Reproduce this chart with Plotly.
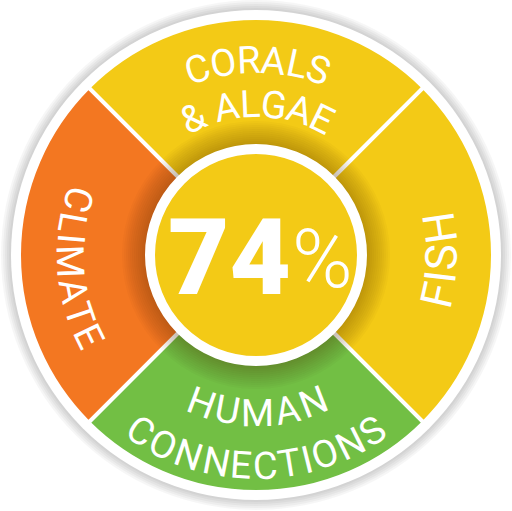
import math
import plotly.graph_objects as go

# ---------------- data ----------------
categories = ["CORALS & ALGAE", "FISH", "HUMAN CONNECTIONS", "CLIMATE"]
label_lines = [["CORALS", "& ALGAE"], ["FISH"], ["HUMAN", "CONNECTIONS"], ["CLIMATE"]]
weights = [1, 1, 1, 1]
score_value = "74"
score_unit = "%"

# ---------------- style ----------------
colors = ["#F3CA16", "#F3CA16", "#72BF44", "#F37721"]
YELLOW = "#F3CA16"
W, H = 512, 511
CX, CY = 256, 255
R_OUT = 237
FONT = "Roboto"

# label layout per category line: (radius, centre angle from top clockwise, size, outward)
label_layout = [
    [(195, 0.5, 38, True), (151, 0.5, 38, True)],
    [(186, 91.5, 44, False)],
    [(158, 179.5, 38, False), (211, 180.0, 38, False)],
    [(186, 266.0, 38, False)],
]

CW = {"A": 0.652, "B": 0.622, "C": 0.652, "D": 0.655, "E": 0.568, "F": 0.552, "G": 0.681,
      "H": 0.713, "I": 0.272, "L": 0.539, "M": 0.873, "N": 0.713, "O": 0.688, "R": 0.616,
      "S": 0.593, "T": 0.597, "U": 0.649, "&": 0.621, " ": 0.248}


def dom(r, cx=CX, cy=CY):
    x0, x1 = (cx - r) / W, (cx + r) / W
    y0, y1 = (H - cy - r) / H, (H - cy + r) / H
    return dict(x=[max(0, x0), min(1, x1)], y=[max(0, y0), min(1, y1)])


def disc(r, color, line_color=None, line_width=0):
    return go.Pie(values=[1], labels=["_"], marker=dict(colors=[color],
                  line=dict(color=line_color or color, width=line_width)),
                  domain=dom(r), textinfo="none", hoverinfo="skip", sort=False,
                  showlegend=False)


fig = go.Figure()

# outer shadow
for r in [255, 253, 251, 249, 247]:
    fig.add_trace(disc(r, "rgba(0,0,0,0.035)"))
# outer white ring
fig.add_trace(disc(245, "white"))
# main segments
fig.add_trace(go.Pie(values=weights, labels=categories, marker=dict(colors=colors,
              line=dict(color="white", width=4)), domain=dom(R_OUT), rotation=-45,
              direction="clockwise", sort=False, textinfo="none", hoverinfo="skip",
              showlegend=False))
# inner shadow (soft gradient)
for r in range(134, 110, -2):
    fig.add_trace(disc(r, "rgba(60,30,0,0.028)"))
# centre disc
fig.add_trace(disc(106, YELLOW, "white", 10))

ann = []


def place(text, r, phi_c, size, outward, track=1.04):
    widths = [CW.get(ch, 0.6) * size * track for ch in text]
    L = sum(widths)
    s = -L / 2
    for ch, w in zip(text, widths):
        mid = s + w / 2
        s += w
        if ch == " ":
            continue
        d = math.degrees(mid / r)
        if outward:
            phi = phi_c + d
            ang = phi
        else:
            phi = phi_c - d
            ang = phi - 180
        while ang > 180:
            ang -= 360
        while ang < -180:
            ang += 360
        x = CX + r * math.sin(math.radians(phi))
        y = CY - r * math.cos(math.radians(phi))
        ann.append(dict(x=x / W, y=(H - y) / H, xref="paper", yref="paper", text=ch,
                        showarrow=False, textangle=ang, xanchor="center", yanchor="middle",
                        font=dict(family=FONT, size=size, color="white", weight=400)))


for lines, lay in zip(label_lines, label_layout):
    for txt, (r, phi, size, out) in zip(lines, lay):
        place(txt, r, phi, size, out)

ann.append(dict(x=229 / W, y=(H - 258) / H, xref="paper", yref="paper", text=score_value,
                showarrow=False, xanchor="center", yanchor="middle",
                font=dict(family=FONT, size=106, color="white", weight=900)))
ann.append(dict(x=322 / W, y=(H - 259) / H, xref="paper", yref="paper", text=score_unit,
                showarrow=False, xanchor="center", yanchor="middle",
                font=dict(family=FONT, size=82, color="white", weight=300)))

fig.update_layout(width=W, height=H, margin=dict(l=0, r=0, t=0, b=0),
                  paper_bgcolor="white", plot_bgcolor="white", annotations=ann,
                  showlegend=False)
fig.write_html("out.html", post_script="document.body.style.margin='0';",
               config={"displayModeBar": False})
